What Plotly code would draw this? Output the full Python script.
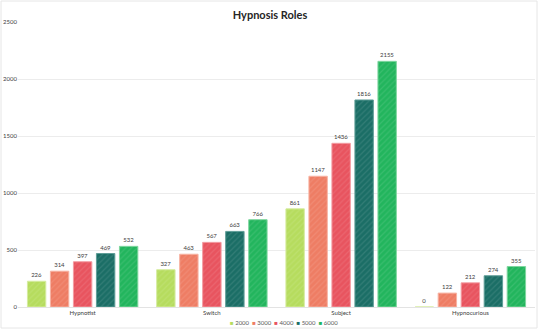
import plotly.graph_objects as go

categories = ["Hypnotist", "Switch", "Subject", "Hypnocurious"]
series_names = ["2000", "3000", "4000", "5000", "6000"]
v2000 = [226, 327, 861, 0]
v3000 = [314, 463, 1147, 122]
v4000 = [397, 567, 1436, 212]
v5000 = [469, 663, 1816, 274]
v6000 = [532, 766, 2155, 355]
colors = ["#b6dc5e", "#ee7d64", "#e8545f", "#1b6e66", "#22b55d"]
lines = ["#d6eca0", "#f7b3a3", "#f39ca2", "#5f9e98", "#7fd69f"]

fig = go.Figure()
for name, vals, c, lc in zip(series_names, [v2000, v3000, v4000, v5000, v6000], colors, lines):
    fig.add_trace(go.Bar(
        x=categories, y=vals, name=name,
        marker=dict(color=c, line=dict(color=lc, width=1),
                    pattern=dict(shape="/", fgcolor="white", fgopacity=0.1, size=4, solidity=0.3)),
        text=[str(v) for v in vals], textposition="outside",
        textfont=dict(size=6, color="#404040", family="Lato"),
        cliponaxis=False, showlegend=False,
    ))

legend_text = "  ".join(f"<span style='color:{c}'>■</span> {n}" for n, c in zip(series_names, colors))
fig.add_annotation(text=legend_text, xref="paper", yref="paper", x=0.515, xanchor="center",
                   y=-15/285, yanchor="middle", showarrow=False,
                   font=dict(size=6, color="#595959", family="Lato"))

fig.update_layout(
    width=540, height=330,
    margin=dict(l=18, r=5, t=22, b=23, autoexpand=False),
    paper_bgcolor="white", plot_bgcolor="white",
    barmode="group", bargap=0.11, bargroupgap=0.2,
    title=dict(text="<b>Hypnosis Roles</b>", x=0.5, xanchor="center", y=0.955, yanchor="middle",
               font=dict(size=11, color="#262626", family="Lato")),
    font=dict(family="Lato", size=6, color="#595959"),
    showlegend=False,
    yaxis=dict(range=[0, 2500], dtick=500, showgrid=True, gridcolor="#ececec", gridwidth=1,
               zeroline=False, showline=False, ticks="", tickfont=dict(size=6, color="#404040"),
               ticklabelstandoff=0),
    xaxis=dict(showline=True, linecolor="#e3e3e3", linewidth=1, ticks="",
               tickfont=dict(size=6, color="#404040"), ticklabelstandoff=0),
)
fig.add_shape(type="rect", xref="paper", yref="paper", x0=-17/517, x1=1 + 2/517, y0=-21/285, y1=1 + 21/285,
              line=dict(color="#e6e6e6", width=1), fillcolor="rgba(0,0,0,0)", layer="below")
fig.write_html("out.html")
